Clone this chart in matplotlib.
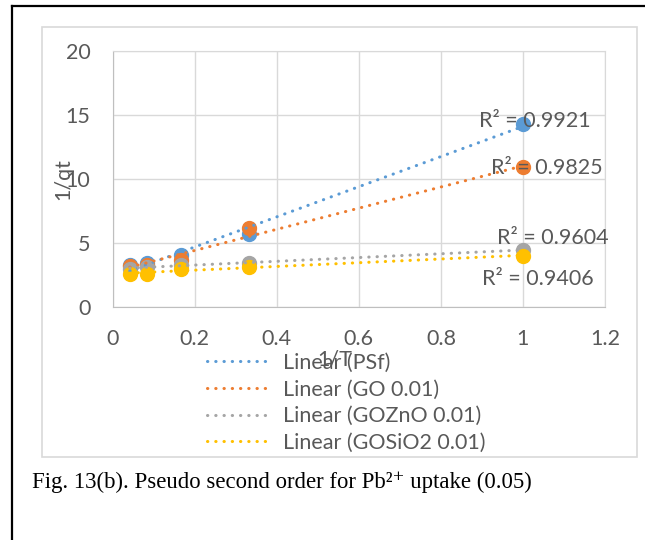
import numpy as np
import matplotlib.pyplot as plt
from matplotlib.lines import Line2D
from matplotlib.patches import Rectangle

# 1/t values and 1/qt for each adsorbent
inv_t = [1 / 24, 1 / 12, 1 / 6, 1 / 3, 1.0]
psf = [3.3, 3.4, 4.1, 5.7, 14.3]
go = [3.2, 3.3, 3.7, 6.15, 10.9]
goznO = [3.0, 3.1, 3.3, 3.45, 4.45]
gosio2 = [2.55, 2.6, 3.0, 3.15, 4.0]

series_names = ['PSf', 'GO 0.01', 'GOZnO 0.01', 'GOSiO2 0.01']
r2_labels = ['0.9921', '0.9825', '0.9604', '0.9406']
# where Excel left the R² boxes (data coords)
r2_pos = [(0.893, 14.5), (0.923, 10.86), (0.937, 5.4), (0.901, 2.2)]
colors = ['#5B9BD5', '#ED7D31', '#A5A5A5', '#FFC000']

txt = '#595959'
fs = 15.5
plt.rcParams['font.family'] = ['Lato', 'DejaVu Sans']

fig = plt.figure(figsize=(6.45, 5.4), dpi=100)
W, H = 645, 540

# black page frame and light chart-area border
fig.add_artist(Line2D([12 / W, 12 / W], [0, 1 - 6 / H], color='black', lw=1.6))
fig.add_artist(Line2D([12 / W, 1], [1 - 6 / H, 1 - 6 / H], color='black', lw=1.6))
fig.add_artist(Rectangle((42 / W, 1 - 457 / H), 595 / W, 430 / H, fill=False,
                         edgecolor='#D9D9D9', lw=1.2))

ax = fig.add_axes([112.7 / W, 1 - 307 / H, 492.3 / W, 256 / H])

x = np.array(inv_t)
handles = []
for ys, c in zip([psf, go, goznO, gosio2], colors):
    ax.plot(x, ys, 'o', color=c, ms=10, mec=c, zorder=3)
for ys, c in zip([psf, go, goznO, gosio2], colors):
    k, b = np.polyfit(x, ys, 1)
    xx = np.array([x.min(), x.max()])
    ln, = ax.plot(xx, k * xx + b, color=c, lw=2.2, ls=(0, (0.1, 2.6)),
                  dash_capstyle='round', zorder=4)
    handles.append(ln)

for lab, (px, py) in zip(r2_labels, r2_pos):
    ax.text(px, py, 'R² = ' + lab, color=txt, fontsize=fs, ha='left', va='center', zorder=5)

ax.set_xlim(0, 1.2)
ax.set_ylim(0, 20)
ax.set_xticks(np.arange(0, 1.21, 0.2))
ax.set_xticklabels(['0', '0.2', '0.4', '0.6', '0.8', '1', '1.2'])
ax.set_yticks([0, 5, 10, 15, 20])
ax.grid(True, color='#D9D9D9', lw=1.0)
ax.set_axisbelow(True)
for s in ax.spines.values():
    s.set_color('#D9D9D9')
ax.spines['left'].set_color('#BFBFBF')
ax.spines['bottom'].set_color('#BFBFBF')
ax.tick_params(length=0, labelsize=fs, labelcolor=txt)
ax.tick_params(axis='x', pad=16)
ax.tick_params(axis='y', pad=16)

ax.set_xlabel('1/T', fontsize=fs, color=txt)
ax.xaxis.set_label_coords(0.45, -0.165)
ax.set_ylabel('1/qt', fontsize=fs, color=txt)
ax.yaxis.set_label_coords(-0.08, 0.5)

ax.legend(handles, ['Linear (' + n + ')' for n in series_names],
          loc='upper left', bbox_to_anchor=(207 / W, 1 - 353 / H),
          bbox_transform=fig.transFigure, frameon=False, fontsize=fs,
          handlelength=2.95, handletextpad=0.6, labelspacing=0.31,
          borderpad=0, borderaxespad=0, labelcolor=txt)

fig.text(32 / W, 1 - 482 / H, 'Fig. 13(b). Pseudo second order for Pb²⁺ uptake (0.05)',
         family=['Liberation Serif', 'DejaVu Serif'], fontsize=16.4, color='black',
         ha='left', va='center')

fig.savefig('out.png', dpi=100)
